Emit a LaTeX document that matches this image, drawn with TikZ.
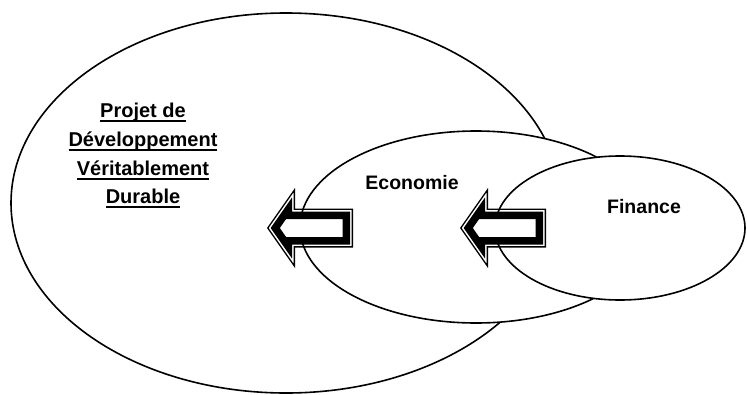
\documentclass[tikz,border=0pt]{standalone}
\usepackage{fontspec}
\setmainfont{Liberation Sans}
\usetikzlibrary{shapes.geometric, positioning}
\tikzstyle{zone} = [draw, ellipse, fill=white, line width=1.6pt, inner sep=0pt]
\tikzstyle{titre} = [font=\bfseries\fontsize{20}{24}\selectfont, inner sep=0pt, anchor=base]
\newcommand{\souligne}[1]{\setbox0\hbox{#1}\rlap{\rule[-4.5pt]{\wd0}{1.7pt}}\box0}
\newcommand{\fleche}[1]{({1.221*#1},0) -- ({28-#1},{-40+3.172*#1}) -- ({28-#1},{-19.5+#1}) -- ({86-#1},{-19.5+#1}) -- ({86-#1},{19.5-#1}) -- ({28-#1},{19.5-#1}) -- ({28-#1},{40-3.172*#1}) -- cycle}

\begin{document}
\begin{tikzpicture}[x=1pt,y=-1pt]
    \useasboundingbox (0,0) rectangle (747,394);
    \node[zone, minimum width=550pt, minimum height=380pt] (projet) at (286,203) {};
    \node[zone, minimum width=352pt, minimum height=192pt] (eco) at (476,227) {};
    \node[zone, minimum width=250pt, minimum height=144pt] (fin) at (620,228) {};
    \node[titre] (l1) at (143,117) {\souligne{Projet de}};
    \node[titre] (l2) at (143,146) {\souligne{Développement}};
    \node[titre] (l3) at (143,175) {\souligne{Véritablement}};
    \node[titre] (l4) at (143,203) {\souligne{Durable}};
    \node[titre, font=\bfseries\fontsize{19.5}{24}\selectfont] (ecotxt) at (412,189.5) {Economie};
    \node[titre, font=\bfseries\fontsize{19.5}{24}\selectfont] (fintxt) at (644,213) {Finance};
    % fleches
    \foreach \pos in {267,460} {
        \begin{scope}[shift={(\pos,228)}]
            \draw[line width=1.3pt] \fleche{0.65};
            \filldraw[fill=white, line width=7.5pt] \fleche{6.75};
        \end{scope}
    }
\end{tikzpicture}
\end{document}
